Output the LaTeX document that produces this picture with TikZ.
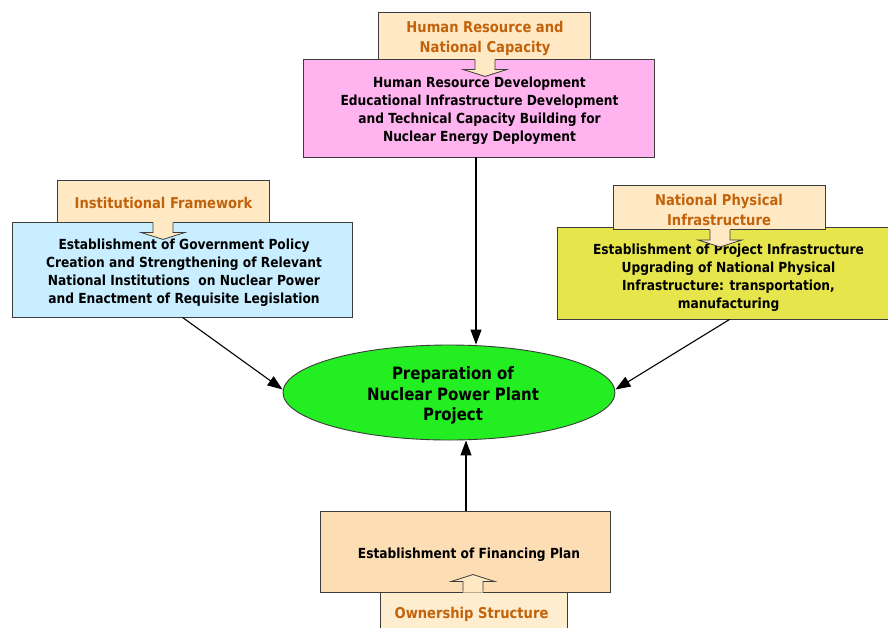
\documentclass[tikz,border=0pt]{standalone}
\usepackage{fontspec}
\setmainfont{DejaVu Sans}[FakeStretch=0.88]
\usetikzlibrary{shapes.geometric,arrows.meta,calc}
\definecolor{bordc}{RGB}{60,60,60}
\definecolor{labfill}{RGB}{255,233,196}
\definecolor{ownfill}{RGB}{255,237,208}
\definecolor{labtext}{RGB}{194,98,10}
\definecolor{pinkfill}{RGB}{255,180,240}
\definecolor{bluefill}{RGB}{200,238,255}
\definecolor{yellowfill}{RGB}{230,230,76}
\definecolor{finfill}{RGB}{253,221,180}
\definecolor{greenfill}{RGB}{34,238,34}
\tikzset{
  mainbox/.style={draw=bordc, line width=0.9pt, inner sep=0pt},
  boxtext/.style={align=center, inner sep=0pt, font=\fontsize{13.9}{18}\selectfont\bfseries},
  labelbox/.style={draw=bordc, line width=0.9pt, fill=labfill, inner sep=0pt},
  labeltext/.style={text=labtext, align=center, inner sep=0pt, font=\fontsize{14.9}{20}\selectfont\bfseries},
  link/.style={draw=black, line width=1.1pt, -{Triangle[length=15pt,width=11pt]}},
  blockarrow/.pic={
    \fill[labfill] (-10,-1) -- (-10,10) -- (-22,10) -- (0,17) -- (22,10) -- (10,10) -- (10,-1) -- cycle;
    \draw[bordc, line width=0.8pt, line join=miter] (-10,0) -- (-10,10) -- (-22,10) -- (0,17) -- (22,10) -- (10,10) -- (10,0);
  }
}
\begin{document}
\begin{tikzpicture}[x=1pt,y=-1pt]
\clip (0,0) rectangle (888,627);
\fill[white] (0,0) rectangle (888,627);
% main boxes
\node[mainbox, fill=pinkfill, minimum width=351pt, minimum height=98pt] (hrd) at (478.5,108) {};
\node[boxtext] (hrdt) at ($(hrd.center)+(1,3)$)
  {Human Resource Development\\Educational Infrastructure Development\\and Technical Capacity Building for\\Nuclear Energy Deployment};
\node[mainbox, fill=bluefill, minimum width=340pt, minimum height=95pt] (inst) at (182,269.5) {};
\node[boxtext] (instt) at ($(inst.center)+(2,3.5)$)
  {Establishment of Government Policy\\Creation and Strengthening of Relevant\\National Institutions\ \ on Nuclear Power\\and Enactment of Requisite Legislation};
\node[mainbox, fill=yellowfill, minimum width=331pt, minimum height=92pt] (phys) at (722.5,273) {};
\node[boxtext] (physt) at ($(phys.center)+(6,4.5)$)
  {Establishment of Project Infrastructure\\Upgrading of National Physical\\Infrastructure: transportation,\\manufacturing};
\node[mainbox, fill=finfill, minimum width=290pt, minimum height=81pt] (fin) at (465,552) {};
\node[boxtext] (fint) at ($(fin.center)+(4,3)$) {Establishment of Financing Plan};
% label boxes
\node[labelbox, minimum width=212pt, minimum height=47pt] (hrl) at (484,35.5) {};
\node[labeltext] at ($(hrl.center)+(1,2.5)$) {Human Resource and\\National Capacity};
\node[labelbox, minimum width=212pt, minimum height=42pt] (instl) at (163,201) {};
\node[labeltext] at ($(instl.center)+(0.5,2)$) {Institutional Framework};
\node[labelbox, minimum width=212pt, minimum height=44pt] (physl) at (719,207.5) {};
\node[labeltext] at ($(physl.center)+(0,2)$) {National Physical\\Infrastructure};
\node[labelbox, fill=ownfill, minimum width=187pt, minimum height=40pt] (own) at (473.5,612) {};
\node[labeltext] at ($(own.center)+(-2,2)$) {Ownership Structure};
% block arrows
\pic at ($(hrl.south)+(1,0)$) {blockarrow};
\pic at (instl.south) {blockarrow};
\pic at ($(physl.south)+(1,0)$) {blockarrow};
\pic[yscale=-1] at ($(own.north)+(-0.5,0)$) {blockarrow};
% central ellipse
\node[ellipse, draw=bordc, line width=0.9pt, fill=greenfill, minimum width=332pt, minimum height=95pt,
  inner sep=0pt] (npp) at (449,392.5) {};
\node[align=center, inner sep=0pt, font=\fontsize{17}{20.5}\selectfont\bfseries] (nppt)
  at ($(npp.center)+(4,3)$) {Preparation of\\Nuclear Power Plant\\Project};
% connectors
\coordinate (ta) at ($(hrd.south)+(-2.5,0)$);
\coordinate (ba) at ($(fin.north)+(1,0)$);
\coordinate (la) at ($(inst.south west)+(171,0)$);
\coordinate (ra) at ($(phys.south west)+(173,0)$);
\draw[link] (ta) -- (ta |- npp.north);
\draw[link] (ba) -- (ba |- npp.south);
\draw[link] (la) -- ($(npp.west)+(0,-3)$);
\draw[link] (ra) -- ($(npp.east)+(0,-3)$);
\end{tikzpicture}
\end{document}
